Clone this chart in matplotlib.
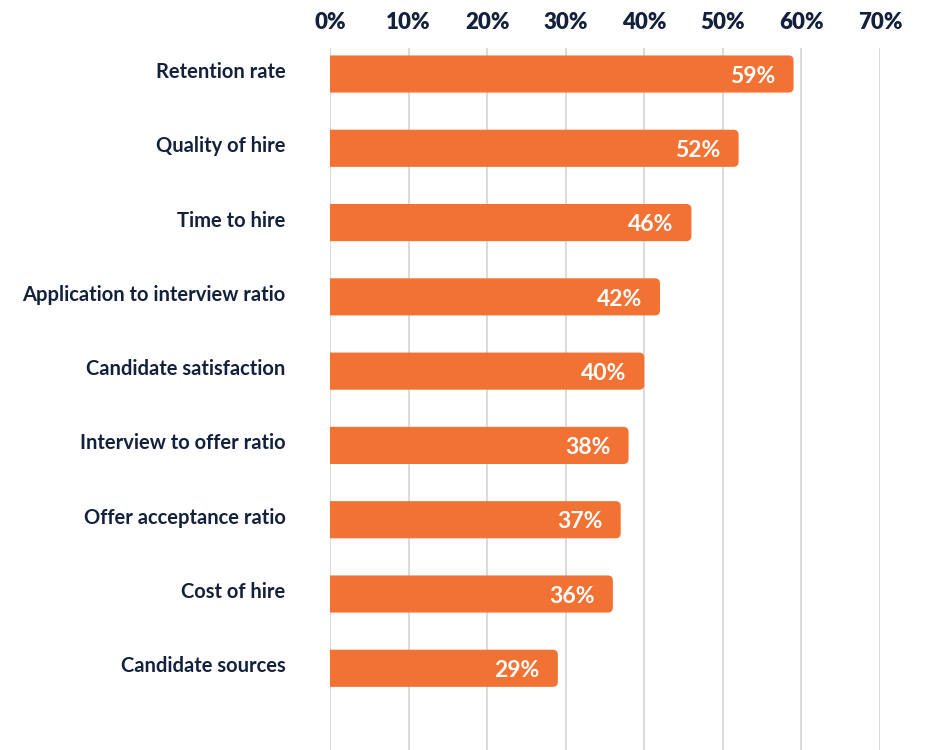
import matplotlib
matplotlib.use("Agg")
import matplotlib.pyplot as plt
from matplotlib.patches import FancyBboxPatch
from matplotlib.transforms import ScaledTranslation

categories = [
    "Retention rate",
    "Quality of hire",
    "Time to hire",
    "Application to interview ratio",
    "Candidate satisfaction",
    "Interview to offer ratio",
    "Offer acceptance ratio",
    "Cost of hire",
    "Candidate sources",
]
values = [59, 52, 46, 42, 40, 38, 37, 36, 29]
tick_values = [0, 10, 20, 30, 40, 50, 60, 70]
tick_labels = [f"{t}%" for t in tick_values]

BAR = "#F27233"
NAVY = "#14213D"
GRID = "#DADADA"

plt.rcParams["font.family"] = ["Lato", "DejaVu Sans"]

fig = plt.figure(figsize=(9.26, 7.5), dpi=100)
ax = fig.add_axes([330 / 926, 0, 550 / 926, 702 / 750])

n = len(categories)
ax.set_xlim(0, 70)
ax.set_ylim(n - 1 + 1.1, -0.35)

# rounded right end; the left corners sit outside the axes and are clipped
height = 0.5
aspect = (1 / 74.25) / (1 / 7.857)
for i, v in enumerate(values):
    p = FancyBboxPatch((-2, i - height / 2), v + 2, height,
                       boxstyle="round,pad=0,rounding_size=0.65",
                       mutation_aspect=aspect,
                       facecolor=BAR, edgecolor="none", zorder=3)
    ax.add_patch(p)
    ax.text(v - 2.3, i + 0.03, f"{v}%", ha="right", va="center",
            color="white", fontsize=16.5, fontweight="bold", zorder=4)

ax.set_xticks(tick_values)
ax.set_xticklabels(tick_labels)
ax.xaxis.tick_top()
ax.tick_params(axis="x", length=0, pad=11, labelsize=16, labelcolor=NAVY)
for lbl in ax.get_xticklabels():
    lbl.set_fontweight("heavy")

ax.set_yticks(range(n))
ax.set_yticklabels(categories)
ax.tick_params(axis="y", length=0, pad=32, labelsize=14.5, labelcolor=NAVY)
shift = ScaledTranslation(0, 4 / 100, fig.dpi_scale_trans)
for lbl in ax.get_yticklabels():
    lbl.set_fontweight("bold")
    lbl.set_transform(lbl.get_transform() + shift)

ax.grid(axis="x", color=GRID, linewidth=1.4, zorder=0)
ax.set_axisbelow(True)
for s in ax.spines.values():
    s.set_visible(False)

fig.savefig("out.png", dpi=100, facecolor="white")
